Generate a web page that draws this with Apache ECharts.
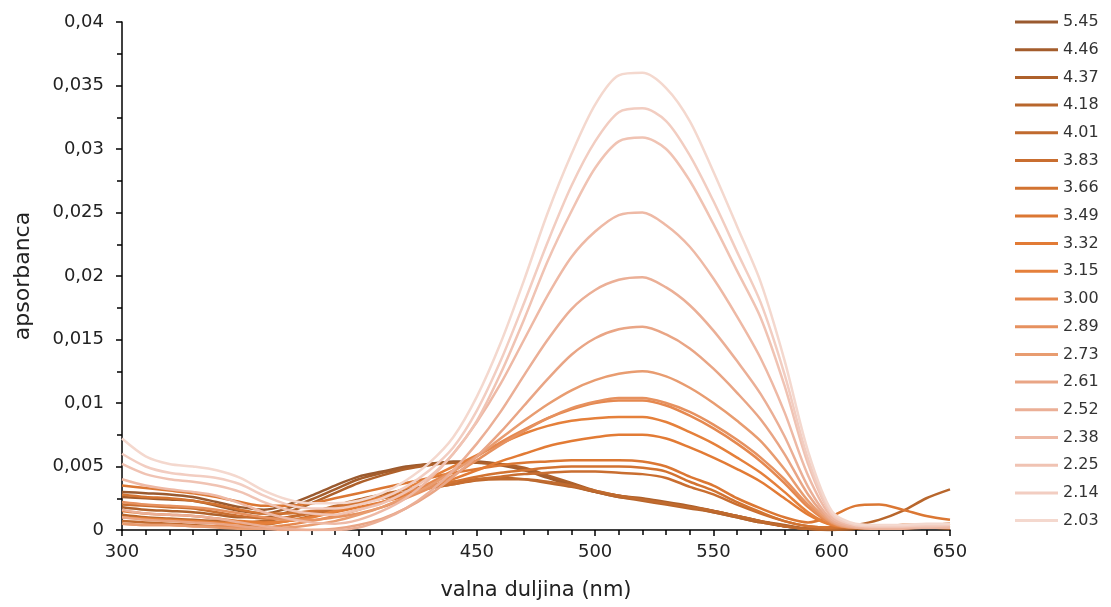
<!DOCTYPE html>
<html><head><meta charset="utf-8">
<script src="https://cdn.jsdelivr.net/npm/echarts@6/dist/echarts.min.js"></script>
<style>html,body{margin:0;padding:0;background:#fff}#c{width:1111px;height:607px}</style>
</head><body><div id="c"></div>
<script>
const wavelengths = [300,310,320,330,340,350,360,370,380,390,400,410,420,430,440,450,460,470,480,490,500,510,520,530,540,550,560,570,580,590,600,610,620,630,640,650];
const legendNames = ["5.45","4.46","4.37","4.18","4.01","3.83","3.66","3.49","3.32","3.15","3.00","2.89","2.73","2.61","2.52","2.38","2.25","2.14","2.03"];
const pH545 = [0.0030,0.0029,0.0028,0.0026,0.0022,0.0018,0.0016,0.0020,0.0027,0.0035,0.0042,0.0046,0.0050,0.0052,0.0054,0.0054,0.0052,0.0048,0.0042,0.0036,0.0030,0.0026,0.0024,0.0021,0.0018,0.0015,0.0011,0.0007,0.0003,0.0001,0.0000,0.0001,0.0002,0.0002,0.0003,0.0002];
const pH446 = [0.0026,0.0025,0.0024,0.0023,0.0019,0.0015,0.0013,0.0017,0.0024,0.0032,0.0040,0.0045,0.0049,0.0052,0.0053,0.0053,0.0051,0.0047,0.0041,0.0035,0.0030,0.0027,0.0024,0.0021,0.0018,0.0014,0.0010,0.0006,0.0003,0.0001,0.0000,0.0001,0.0001,0.0002,0.0002,0.0002];
const pH437 = [0.0018,0.0016,0.0015,0.0014,0.0012,0.0010,0.0010,0.0014,0.0021,0.0029,0.0037,0.0043,0.0048,0.0051,0.0053,0.0053,0.0052,0.0049,0.0043,0.0037,0.0031,0.0027,0.0025,0.0022,0.0019,0.0015,0.0011,0.0007,0.0004,0.0001,0.0000,0.0001,0.0001,0.0001,0.0002,0.0001];
const pH418 = [0.0012,0.0010,0.0009,0.0008,0.0007,0.0006,0.0007,0.0010,0.0014,0.0019,0.0024,0.0028,0.0032,0.0035,0.0038,0.0040,0.0041,0.0040,0.0037,0.0034,0.0030,0.0026,0.0023,0.0020,0.0017,0.0014,0.0010,0.0006,0.0003,0.0001,0.0002,0.0004,0.0008,0.0015,0.0025,0.0032];
const pH401 = [0.0007,0.0006,0.0005,0.0004,0.0003,0.0003,0.0004,0.0007,0.0011,0.0016,0.0021,0.0025,0.0029,0.0033,0.0036,0.0039,0.0040,0.0040,0.0038,0.0035,0.0031,0.0027,0.0024,0.0021,0.0018,0.0015,0.0011,0.0007,0.0003,0.0001,0.0001,0.0002,0.0002,0.0003,0.0003,0.0003];
const pH383 = [0.0020,0.0019,0.0018,0.0017,0.0014,0.0011,0.0009,0.0010,0.0013,0.0017,0.0021,0.0025,0.0029,0.0033,0.0036,0.0040,0.0042,0.0044,0.0045,0.0046,0.0046,0.0045,0.0044,0.0041,0.0034,0.0028,0.0020,0.0013,0.0007,0.0003,0.0002,0.0002,0.0003,0.0003,0.0004,0.0004];
const pH366 = [0.0028,0.0026,0.0025,0.0023,0.0020,0.0016,0.0013,0.0013,0.0015,0.0018,0.0022,0.0026,0.0030,0.0034,0.0038,0.0042,0.0045,0.0047,0.0049,0.0050,0.0050,0.0050,0.0049,0.0046,0.0038,0.0031,0.0022,0.0014,0.0007,0.0003,0.0002,0.0003,0.0003,0.0004,0.0004,0.0005];
const pH349 = [0.0035,0.0033,0.0031,0.0029,0.0026,0.0022,0.0019,0.0019,0.0021,0.0025,0.0029,0.0033,0.0037,0.0041,0.0045,0.0048,0.0051,0.0053,0.0054,0.0055,0.0055,0.0055,0.0054,0.0050,0.0042,0.0035,0.0025,0.0017,0.0010,0.0006,0.0011,0.0019,0.0020,0.0016,0.0011,0.0008];
const pH332 = [0.0015,0.0013,0.0012,0.0011,0.0009,0.0007,0.0006,0.0007,0.0010,0.0014,0.0018,0.0022,0.0027,0.0033,0.0040,0.0047,0.0054,0.0060,0.0066,0.0070,0.0073,0.0075,0.0075,0.0072,0.0065,0.0057,0.0048,0.0038,0.0025,0.0012,0.0004,0.0003,0.0003,0.0004,0.0004,0.0005];
const pH315 = [0.0010,0.0009,0.0008,0.0007,0.0006,0.0005,0.0005,0.0007,0.0010,0.0015,0.0020,0.0026,0.0033,0.0041,0.0050,0.0059,0.0068,0.0076,0.0082,0.0086,0.0088,0.0089,0.0089,0.0085,0.0077,0.0068,0.0057,0.0045,0.0030,0.0014,0.0004,0.0002,0.0002,0.0003,0.0003,0.0003];
const pH300 = [0.0005,0.0004,0.0004,0.0003,0.0003,0.0002,0.0002,0.0004,0.0007,0.0011,0.0016,0.0022,0.0029,0.0037,0.0047,0.0058,0.0069,0.0079,0.0088,0.0095,0.0100,0.0102,0.0102,0.0098,0.0090,0.0080,0.0068,0.0054,0.0037,0.0018,0.0005,0.0002,0.0002,0.0002,0.0003,0.0003];
const pH289 = [0.0022,0.0020,0.0019,0.0018,0.0016,0.0013,0.0010,0.0008,0.0008,0.0010,0.0013,0.0018,0.0025,0.0033,0.0043,0.0055,0.0067,0.0078,0.0088,0.0096,0.0101,0.0104,0.0104,0.0100,0.0093,0.0083,0.0071,0.0057,0.0040,0.0020,0.0006,0.0003,0.0002,0.0003,0.0003,0.0003];
const pH273 = [0.0005,0.0004,0.0004,0.0003,0.0002,0.0001,0.0001,0.0002,0.0004,0.0007,0.0012,0.0018,0.0026,0.0035,0.0046,0.0058,0.0072,0.0086,0.0099,0.0110,0.0118,0.0123,0.0125,0.0121,0.0112,0.0100,0.0086,0.0070,0.0048,0.0023,0.0006,0.0002,0.0002,0.0002,0.0002,0.0002];
const pH261 = [0.0010,0.0008,0.0007,0.0006,0.0005,0.0003,0.0001,0.0000,0.0000,0.0001,0.0004,0.0009,0.0017,0.0028,0.0042,0.0058,0.0077,0.0098,0.0119,0.0138,0.0151,0.0158,0.0160,0.0154,0.0143,0.0127,0.0108,0.0087,0.0060,0.0028,0.0007,0.0002,0.0002,0.0002,0.0002,0.0002];
const pH252 = [0.0016,0.0013,0.0012,0.0011,0.0009,0.0006,0.0003,0.0001,0.0000,0.0000,0.0002,0.0008,0.0017,0.0030,0.0047,0.0068,0.0093,0.0122,0.0150,0.0174,0.0189,0.0197,0.0199,0.0191,0.0177,0.0157,0.0133,0.0107,0.0074,0.0034,0.0008,0.0002,0.0001,0.0001,0.0002,0.0002];
const pH238 = [0.0040,0.0035,0.0032,0.0030,0.0027,0.0021,0.0014,0.0009,0.0006,0.0005,0.0008,0.0015,0.0025,0.0040,0.0060,0.0085,0.0115,0.0150,0.0185,0.0215,0.0235,0.0248,0.0250,0.0240,0.0223,0.0198,0.0168,0.0135,0.0093,0.0043,0.0010,0.0003,0.0002,0.0002,0.0002,0.0002];
const pH225 = [0.0052,0.0044,0.0040,0.0038,0.0035,0.0030,0.0022,0.0016,0.0013,0.0012,0.0016,0.0021,0.0030,0.0042,0.0060,0.0086,0.0123,0.0166,0.0212,0.0251,0.0285,0.0306,0.0309,0.0300,0.0275,0.0241,0.0204,0.0167,0.0114,0.0052,0.0012,0.0004,0.0003,0.0003,0.0003,0.0004];
const pH214 = [0.0060,0.0050,0.0045,0.0043,0.0041,0.0036,0.0027,0.0020,0.0017,0.0017,0.0020,0.0025,0.0034,0.0047,0.0065,0.0094,0.0133,0.0179,0.0227,0.0271,0.0306,0.0329,0.0332,0.0322,0.0295,0.0259,0.0219,0.0179,0.0123,0.0056,0.0013,0.0004,0.0003,0.0003,0.0004,0.0004];
const pH203 = [0.0072,0.0058,0.0052,0.0050,0.0047,0.0041,0.0031,0.0024,0.0021,0.0021,0.0023,0.0029,0.0039,0.0053,0.0073,0.0105,0.0147,0.0197,0.0250,0.0296,0.0335,0.0358,0.0360,0.0348,0.0322,0.0282,0.0239,0.0195,0.0134,0.0062,0.0015,0.0005,0.0004,0.0004,0.0005,0.0005];
const seriesValues = [pH545,pH446,pH437,pH418,pH401,pH383,pH366,pH349,pH332,pH315,pH300,pH289,pH273,pH261,pH252,pH238,pH225,pH214,pH203];
const yTicks = [0,0.005,0.01,0.015,0.02,0.025,0.03,0.035,0.04];
const xTicks = [300,350,400,450,500,550,600,650];
</script>
<script>
const colors = ["#9a5a2f","#a45d2c","#ae612b","#b8662c","#c06a2e","#c96e30","#d27331","#db7733","#e27b35","#e5803b","#e5884f","#e6915f","#e89c70","#e9a585","#ebaf96","#eeb9a5","#f0c3b3","#f2cdc1","#f4d8ce"];
const chart = echarts.init(document.getElementById('c'), null, {renderer:'canvas'});
const FONT = 'DejaVu Sans';
const series = legendNames.map((n,i)=>({
  name:n, type:'line', showSymbol:false, symbol:'none', smooth:0.3,
  lineStyle:{width:2.5,color:colors[i]}, itemStyle:{color:colors[i]},
  data: wavelengths.map((w,j)=>[w, seriesValues[i][j]]),
  z: 2
}));
chart.setOption({
  animation:false,
  backgroundColor:'#fff',
  grid:{left:122,right:161,top:22,bottom:77,containLabel:false},
  legend:{orient:'vertical',left:1015,top:13,padding:0,icon:'rect',itemWidth:43,itemHeight:3,itemGap:9.7,
    textStyle:{fontFamily:FONT,fontSize:16,lineHeight:18,color:'#333'},data:legendNames},
  xAxis:{type:'value',min:300,max:650,interval:50,
    name:'valna duljina (nm)',nameLocation:'middle',nameGap:50,
    nameTextStyle:{fontFamily:FONT,fontSize:21,color:'#222'},
    axisLine:{lineStyle:{color:'#000',width:1.5}},
    axisTick:{show:true,inside:false,length:6,lineStyle:{color:'#000',width:1.5}},
    minorTick:{show:true,splitNumber:5,length:5,lineStyle:{color:'#000',width:1.5}},
    splitLine:{show:false},
    axisLabel:{fontFamily:FONT,fontSize:18,color:'#222',margin:13,
      formatter:v=>xTicks.includes(v)?String(v):''}},
  yAxis:{type:'value',min:0,max:0.04,interval:0.005,
    name:'apsorbanca',nameLocation:'middle',nameGap:88,nameRotate:90,
    nameTextStyle:{fontFamily:FONT,fontSize:22,color:'#222'},
    axisLine:{show:true,lineStyle:{color:'#000',width:1.5}},
    axisTick:{show:true,inside:false,length:6,lineStyle:{color:'#000',width:1.5}},
    minorTick:{show:true,splitNumber:2,length:5,lineStyle:{color:'#000',width:1.5}},
    splitLine:{show:false},
    axisLabel:{fontFamily:FONT,fontSize:18,color:'#222',margin:18,
      formatter:v=>{const t=yTicks.find(k=>Math.abs(k-v)<1e-9);return t===undefined?'':String(t).replace('.',',');}}},
  series
});
</script>
</body></html>
